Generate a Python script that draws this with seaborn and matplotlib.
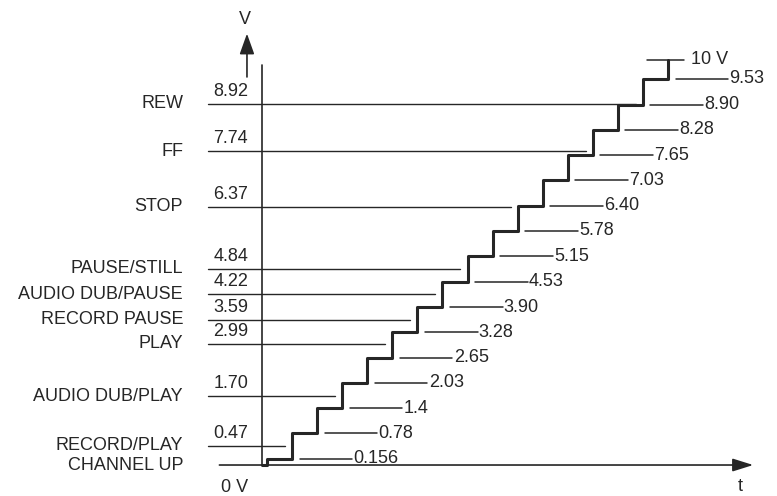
import numpy as np
import pandas as pd
import matplotlib
matplotlib.use("Agg")
import matplotlib.pyplot as plt
import seaborn as sns

# output levels of the resistor ladder (V), one per time step
step_levels = [0.156, 0.78, 1.4, 2.03, 2.65, 3.28, 3.90, 4.53, 5.15,
               5.78, 6.40, 7.03, 7.65, 8.28, 8.90, 9.53]
step_labels = ["0.156", "0.78", "1.4", "2.03", "2.65", "3.28", "3.90", "4.53",
               "5.15", "5.78", "6.40", "7.03", "7.65", "8.28", "8.90", "9.53"]
top_level = 10.0
top_label = "10 V"

# key decision thresholds (V)
key_names = ["CHANNEL UP", "RECORD/PLAY", "AUDIO DUB/PLAY", "PLAY", "RECORD PAUSE",
             "AUDIO DUB/PAUSE", "PAUSE/STILL", "STOP", "FF", "REW"]
key_levels = [0.0, 0.47, 1.70, 2.99, 3.59, 4.22, 4.84, 6.37, 7.74, 8.92]
key_labels = ["", "0.47", "1.70", "2.99", "3.59", "4.22", "4.84", "6.37", "7.74", "8.92"]

sns.set_theme(style="white")
plt.rcParams["font.family"] = ["Liberation Sans", "DejaVu Sans"]

ink = "#262626"
fs = 13

fig = plt.figure(figsize=(7.77, 4.96), dpi=100)
ax = fig.add_axes([0, 0, 1, 1])
ax.set_xlim(-10.455, 20.55)
ax.set_ylim(-0.765, 11.48)
ax.set_axis_off()

# staircase
offset = 0.2
t_riser = [k + offset for k in range(len(step_levels) + 1)]
stairs = pd.DataFrame({"t": [0.0] + t_riser,
                       "v": [0.0] + step_levels + [top_level]})
sns.lineplot(data=stairs, x="t", y="v", drawstyle="steps-post", sort=False,
             estimator=None, color=ink, lw=2.2, ax=ax)

# top cap and label
ax.plot([t_riser[-1] - 0.85, t_riser[-1] + 0.65], [top_level, top_level], color=ink, lw=1.1)
ax.text(t_riser[-1] + 0.9, top_level, top_label, fontsize=fs, color=ink, va="center")

# level labels to the right of each step
for k, (lv, lab) in enumerate(zip(step_levels, step_labels)):
    x0 = t_riser[k + 1] + 0.3
    ax.plot([x0, x0 + 2.1], [lv, lv], color=ink, lw=1.1)
    ax.text(x0 + 2.15, lv, lab, fontsize=fs, color=ink, va="center")

# key threshold lines on the left
for name, lv, lab in zip(key_names, key_levels, key_labels):
    ax.text(-3.15, lv, name, fontsize=fs, color=ink, ha="right", va="center")
    if lv <= 0:
        continue
    idx = int(np.searchsorted(step_levels, lv))
    ax.plot([-2.15, t_riser[idx] - 0.28], [lv, lv], color=ink, lw=1.0)
    ax.text(-0.55, lv + 0.1, lab, fontsize=fs, color=ink, ha="right", va="bottom")

# axes
ax.plot([0, 0], [0, 9.88], color=ink, lw=1.2)
ax.annotate("", xy=(19.6, 0), xytext=(-1.7, 0),
            arrowprops=dict(arrowstyle="-|>,head_length=0.7,head_width=0.22",
                            color=ink, lw=1.2, mutation_scale=18, shrinkA=0, shrinkB=0))
ax.annotate("", xy=(-0.6, 10.65), xytext=(-0.6, 9.58),
            arrowprops=dict(arrowstyle="-|>,head_length=0.7,head_width=0.25",
                            color=ink, lw=1.2, mutation_scale=18, shrinkA=0, shrinkB=0))
ax.text(-0.7, 11.0, "V", fontsize=fs, color=ink, ha="center", va="center")
ax.text(-1.1, -0.55, "0 V", fontsize=fs, color=ink, ha="center", va="center")
ax.text(19.1, -0.52, "t", fontsize=fs, color=ink, ha="center", va="center")

fig.savefig("out.png", dpi=100, facecolor="white")
